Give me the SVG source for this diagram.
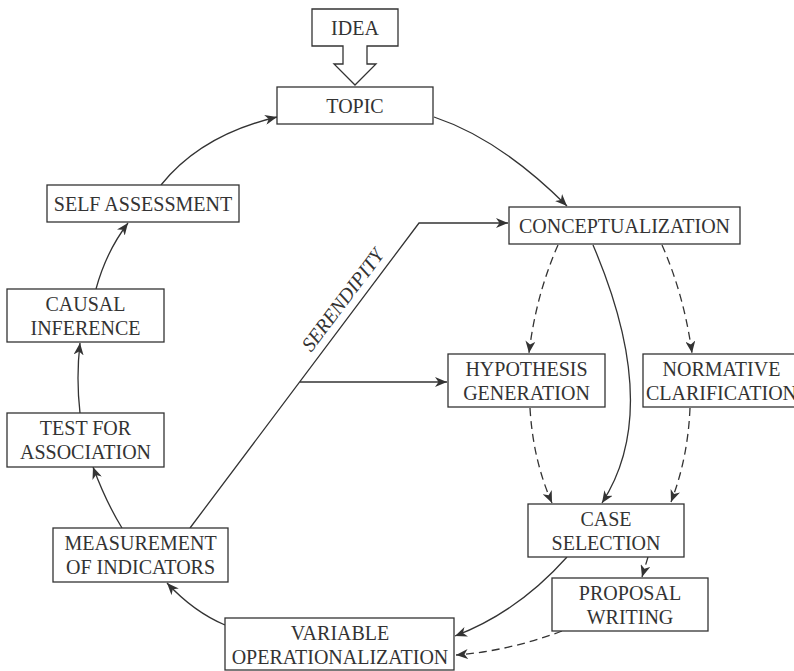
<svg xmlns="http://www.w3.org/2000/svg" width="794" height="671" viewBox="0 0 794 671">
<style>
.box{fill:#fff;stroke:#333;stroke-width:1.3}
.t{font-family:"Liberation Serif","Times New Roman",serif;font-size:20px;fill:#333;text-anchor:middle}
.c{fill:none;stroke:#333;stroke-width:1.3}
.d{stroke-dasharray:8 5}
</style>
<defs>
<marker id="ah" viewBox="0 0 12 10" refX="12" refY="5" markerWidth="12" markerHeight="10" markerUnits="userSpaceOnUse" orient="auto">
<path d="M0,0 L12,5 L0,10 L3.5,5 Z" fill="#333" stroke="none"/>
</marker>
</defs>
<rect width="794" height="671" fill="#fff"/>
<g id="connectors">
<path class="c" d="M434,117 Q500,139 567,206" marker-end="url(#ah)"/>
<path class="c" d="M161,185 Q201,135 277,117" marker-end="url(#ah)"/>
<path class="c" d="M96,289 Q106,252 128,223" marker-end="url(#ah)"/>
<path class="c" d="M80,413 Q76,378 80,343" marker-end="url(#ah)"/>
<path class="c" d="M122,528 Q106,502 93,467" marker-end="url(#ah)"/>
<path class="c" d="M225,625 Q194,612 167,583" marker-end="url(#ah)"/>
<path class="c" d="M567,557 Q518,612 455,636" marker-end="url(#ah)"/>
<path class="c d" d="M562,631 Q509,651 456,655" marker-end="url(#ah)"/>
<path class="c d" d="M648,557 L642,577" marker-end="url(#ah)"/>
<path class="c d" d="M558,245 Q536,295 529,353" marker-end="url(#ah)"/>
<path class="c d" d="M662,245 Q684,295 692,353" marker-end="url(#ah)"/>
<path class="c" d="M593,245 C640,355 643,440 602,503" marker-end="url(#ah)"/>
<path class="c d" d="M530,408 Q533,460 552,503" marker-end="url(#ah)"/>
<path class="c d" d="M690,408 Q688,458 671,502" marker-end="url(#ah)"/>
<path class="c" d="M190,528 L419,223 L508,223" marker-end="url(#ah)"/>
<path class="c" d="M300,382 L447,382" marker-end="url(#ah)"/>
<text class="t" style="font-style:italic" transform="translate(348,304) rotate(-53)">SERENDIPITY</text>
</g>
<g id="idea">
<path class="box" d="M312,9 H398 V46 H367 V64 H376 L355,85 L334,64 H343 V46 H312 Z"/>
<text class="t" x="355" y="34.5">IDEA</text>
</g>
<g id="topic">
<rect class="box" x="277" y="87" width="156" height="37"/>
<text class="t" x="355" y="112.5">TOPIC</text>
</g>
<g id="conceptualization">
<rect class="box" x="509" y="207" width="231" height="37"/>
<text class="t" x="624.5" y="232.5">CONCEPTUALIZATION</text>
</g>
<g id="self-assessment">
<rect class="box" x="47" y="185" width="192" height="37"/>
<text class="t" x="143" y="210.5">SELF ASSESSMENT</text>
</g>
<g id="causal-inference">
<rect class="box" x="7" y="289" width="157" height="53"/>
<text class="t" x="85.5" y="310.5">CAUSAL</text>
<text class="t" x="85.5" y="334.5">INFERENCE</text>
</g>
<g id="test-for-association">
<rect class="box" x="7" y="413" width="157" height="54"/>
<text class="t" x="85.5" y="435">TEST FOR</text>
<text class="t" x="85.5" y="459">ASSOCIATION</text>
</g>
<g id="measurement">
<rect class="box" x="53" y="528" width="175" height="54"/>
<text class="t" x="140.5" y="550">MEASUREMENT</text>
<text class="t" x="140.5" y="574">OF INDICATORS</text>
</g>
<g id="variable-operationalization">
<rect class="box" x="225" y="618" width="229" height="52"/>
<text class="t" x="340" y="639.5">VARIABLE</text>
<text class="t" x="340" y="663.5">OPERATIONALIZATION</text>
</g>
<g id="hypothesis-generation">
<rect class="box" x="448" y="354" width="157" height="53"/>
<text class="t" x="526.5" y="375.5">HYPOTHESIS</text>
<text class="t" x="526.5" y="399.5">GENERATION</text>
</g>
<g id="normative-clarification">
<rect class="box" x="643" y="354" width="157" height="53"/>
<text class="t" x="721.5" y="375.5">NORMATIVE</text>
<text class="t" x="721.5" y="399.5">CLARIFICATION</text>
</g>
<g id="case-selection">
<rect class="box" x="528" y="504" width="156" height="53"/>
<text class="t" x="606" y="525.5">CASE</text>
<text class="t" x="606" y="549.5">SELECTION</text>
</g>
<g id="proposal-writing">
<rect class="box" x="552" y="578" width="156" height="53"/>
<text class="t" x="630" y="599.5">PROPOSAL</text>
<text class="t" x="630" y="623.5">WRITING</text>
</g>
</svg>
